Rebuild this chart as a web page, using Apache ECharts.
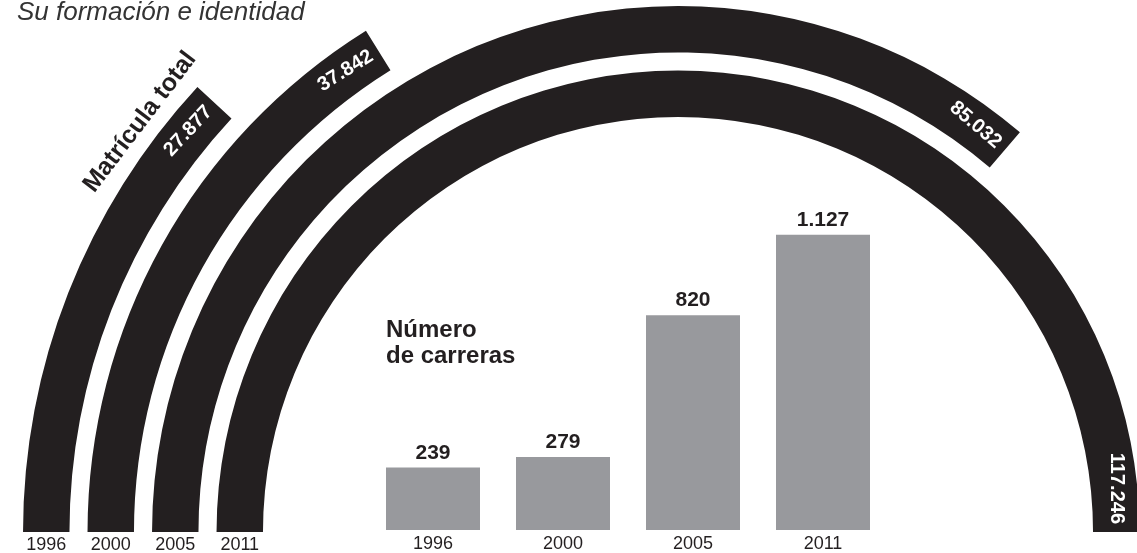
<!DOCTYPE html>
<html><head><meta charset="utf-8">
<script src="https://cdn.jsdelivr.net/npm/echarts@6/dist/echarts.min.js"></script>
<style>html,body{margin:0;padding:0;background:#fff}#c{width:1137px;height:553px}</style>
</head><body><div id="c"></div>
<script>
const years = ['1996', '2000', '2005', '2011'];
const matricula = [27877, 37842, 85032, 117246];
const carreras = [239, 279, 820, 1127];
const titleText = 'Su formación e identidad';
const arcTitle = 'Matrícula total';
const barTitle = 'Número\nde carreras';

const FF = '"Liberation Sans", Arial, Helvetica, sans-serif';
const INK = '#231f20';
const fmt = v => String(v).replace(/\B(?=(\d{3})+(?!\d))/g, '.');

const chart = echarts.init(document.getElementById('c'));
chart.setOption({
  animation: false,
  backgroundColor: '#fff',
  title: {
    text: titleText, left: 12, top: -5,
    textStyle: { fontFamily: FF, fontStyle: 'italic', fontWeight: 'normal', fontSize: 26, color: '#333' }
  },
  polar: { center: [678, 532], radius: [406, 664] },
  angleAxis: {
    type: 'value', min: 0, max: Math.max(...matricula) * 2, startAngle: 180, clockwise: true,
    axisLine: { show: false }, axisTick: { show: false }, axisLabel: { show: false }, splitLine: { show: false }
  },
  radiusAxis: {
    type: 'category', data: years, inverse: true,
    axisLine: { show: false }, axisTick: { show: false }, splitLine: { show: false },
    axisLabel: { fontFamily: FF, fontSize: 18, color: INK, margin: 4 }
  },
  grid: { left: 368, right: 249, top: 215.6, bottom: 23 },
  xAxis: {
    type: 'category', data: years,
    axisLine: { show: false }, axisTick: { show: false },
    axisLabel: { fontFamily: FF, fontSize: 18, color: INK, margin: 5 }
  },
  yAxis: { type: 'value', min: 0, max: 1200, show: false },
  series: [
    {
      type: 'bar', coordinateSystem: 'polar', data: matricula, barCategoryGap: '28%',
      itemStyle: { color: INK }, silent: true,
      label: {
        show: true, position: 'insideEnd', rotate: 'tangential', color: '#fff', distance: 8,
        fontFamily: FF, fontWeight: 'bold', fontSize: 20, formatter: p => fmt(p.value)
      }
    },
    {
      type: 'bar', data: carreras, barWidth: 94, itemStyle: { color: '#98999d' }, silent: true,
      label: {
        show: true, position: 'top', distance: 4, color: INK,
        fontFamily: FF, fontWeight: 'bold', fontSize: 21, formatter: p => fmt(p.value)
      }
    }
  ],
  graphic: [
    {
      type: 'text', left: 386, top: 317,
      style: { text: barTitle, fontFamily: FF, fontWeight: 'bold', fontSize: 24, lineHeight: 26, fill: INK }
    },
    {
      type: 'text', x: 140, y: 122, rotation: 52.7 * Math.PI / 180,
      style: { text: arcTitle, fontFamily: FF, fontWeight: 'bold', fontSize: 25, fill: INK, align: 'center', verticalAlign: 'middle' }
    }
  ]
});
</script></body></html>
